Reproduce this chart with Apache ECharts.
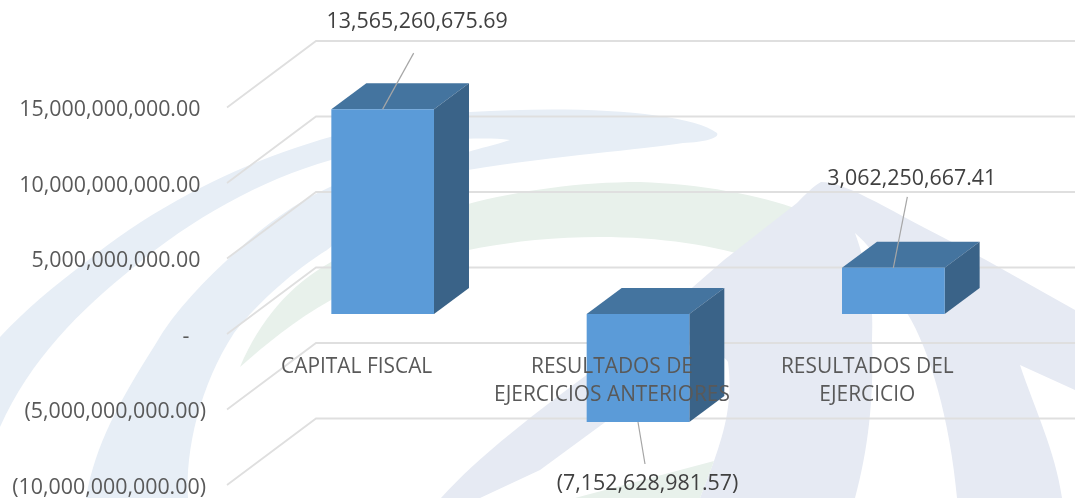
<!DOCTYPE html>
<html>
<head>
<meta charset="utf-8">
<style>html,body{margin:0;padding:0;background:#fff}#c{width:1075px;height:498px}</style>
<script src="https://cdn.jsdelivr.net/npm/echarts@6/dist/echarts.min.js"></script>
</head>
<body>
<div id="c"></div>
<script>
const categories = ['CAPITAL FISCAL', 'RESULTADOS DE\nEJERCICIOS ANTERIORES', 'RESULTADOS DEL\nEJERCICIO'];
const values = [13565260675.69, -7152628981.57, 3062250667.41];
const yTicks = [-10000000000, -5000000000, 0, 5000000000, 10000000000, 15000000000];

// leader line end and label centre, relative to the free end of each bar's front face
const labelLayout = [
  {line: [31, -56], text: [34.5, -87.5]},
  {line: [7, 42], text: [9.5, 62]},
  {line: [14, -71], text: [18.5, -89]}
];
const FONT = '"Open Sans","Noto Sans",sans-serif';
const fmt2 = v => {
  const s = Math.abs(v).toLocaleString('en-US', {minimumFractionDigits: 2, maximumFractionDigits: 2});
  return v < 0 ? '(' + s + ')' : s;
};

const wall = {dx: 89, dy: -66.5};
const barShift = {dx: 26, dy: -20};
const barDepth = {dx: 35, dy: -26};

function renderGrid(params, api) {
  const y = api.coord([0, api.value(1)])[1];
  const x0 = params.coordSys.x;
  return {type: 'polyline', silent: true,
    shape: {points: [[x0 - 2, y], [x0 - 2 + wall.dx, y + wall.dy], [1080, y + wall.dy]]},
    style: {fill: null, stroke: '#dfdfdf', lineWidth: 1.8}};
}

function renderBar(params, api) {
  const i = api.value(0), v = api.value(1);
  const c0 = api.coord([i, 0]), c1 = api.coord([i, v]);
  const w = api.size([1, 0])[0] * 0.402;
  const cx = c0[0] + barShift.dx;
  const xl = cx - w / 2, xr = cx + w / 2;
  const y0 = c0[1] + barShift.dy, y1 = c1[1] + barShift.dy;
  const top = Math.min(y0, y1), bot = Math.max(y0, y1);
  const d = barDepth;
  const L = labelLayout[i];
  const ax = cx, ay = y1;
  return {type: 'group', children: [
    {type: 'polygon', shape: {points: [[xl, top], [xr, top], [xr + d.dx, top + d.dy], [xl + d.dx, top + d.dy]]}, style: {fill: '#44749f'}},
    {type: 'polygon', shape: {points: [[xr, top], [xr + d.dx, top + d.dy], [xr + d.dx, bot + d.dy], [xr, bot]]}, style: {fill: '#3a6388'}},
    {type: 'rect', shape: {x: xl, y: top, width: w, height: bot - top}, style: {fill: '#5b9bd8'}},
    {type: 'line', shape: {x1: ax, y1: ay, x2: ax + L.line[0], y2: ay + L.line[1]}, style: {stroke: '#a6a6a6', lineWidth: 1.2}},
    {type: 'text', style: {x: ax + L.text[0], y: ay + L.text[1], text: fmt2(v), fill: '#404040', font: '21.4px ' + FONT, textAlign: 'center', textVerticalAlign: 'middle'}}
  ]};
}

const watermark = [
  {fill: '#e7eef6', d: 'M717,133 C690,112 580,105 470,112 C340,122 200,170 86,262 C55,285 25,310 0,337 L0,427 C30,360 80,310 134,267 C190,220 260,180 331,160 C400,143 470,135 510,140 C495,145 480,148 468,152 C420,162 370,170 330,187 C295,203 265,225 238,250 C205,280 175,310 155,345 C120,400 95,445 86,498 L188,498 C185,450 200,385 234,333 C260,300 295,270 327,250 C370,215 420,185 468,170 C560,155 640,150 683,143 C705,142 720,138 717,133 Z'},
  {fill: '#e8f1eb', d: 'M240,367 C260,320 290,285 331,262 C400,215 520,182 640,182 C700,184 760,195 800,210 L760,260 C700,240 620,232 535,240 C460,248 390,265 331,300 C295,320 265,345 240,367 Z'},
  {fill: '#e6eaf3', d: 'M821,182 C845,182 880,205 948,240 L986,260 L1075,310 L1075,390 L1020,365 C1035,410 1055,450 1062,498 L957,498 C950,420 930,350 907,313 C895,285 880,255 855,233 C868,270 874,300 872,340 C874,400 868,450 855,498 L441,498 C480,455 535,413 600,365 C640,335 670,310 693,287 L724,260 L797,203 C805,195 812,187 821,182 Z'},
  {fill: '#ffffff', d: 'M480,498 L540,470 L604,423 L690,345 Q722,352 728,362 C733,400 725,430 714,461 L700,498 Z'},
  {fill: '#e8f1eb', d: 'M575,498 L714,461 L700,498 Z'}
];

function renderWatermark(params) {
  const w = watermark[params.dataIndex];
  return {type: 'path', silent: true, shape: {pathData: w.d}, style: {fill: w.fill}};
}

const chart = echarts.init(document.getElementById('c'), null, {renderer: 'canvas'});
chart.setOption({
  animation: false,
  backgroundColor: '#ffffff',
  grid: {left: 229, width: 766, top: 107.5, bottom: 13, containLabel: false, outerBoundsMode: 'none'},
  xAxis: {
    type: 'category', data: categories, z: 6, offset: -152,
    axisLine: {show: false, onZero: false}, axisTick: {show: false}, splitLine: {show: false},
    axisLabel: {interval: 0, margin: 20, color: '#595959', fontFamily: FONT, fontSize: 20.9, lineHeight: 28, align: 'center', hideOverlap: false}
  },
  yAxis: {
    type: 'value', min: -10000000000, max: 15000000000, interval: 5000000000,
    axisLine: {show: false}, axisTick: {show: false}, splitLine: {show: false},
    axisLabel: {
      margin: 23, showMinLabel: true, showMaxLabel: true,
      formatter: v => '{a|' + (v === 0 ? '-   ' : (v < 0 ? fmt2(v) : fmt2(v) + ' ')) + '}',
      rich: {a: {color: '#595959', fontFamily: FONT, fontSize: 21.4, padding: [5, 0, 0, 0]}}
    }
  },
  series: [
    {type: 'custom', z: 0, clip: false, silent: true, encode: {x: 0, y: 1}, data: watermark.map(() => [0, 0]), renderItem: renderWatermark},
    {type: 'custom', z: 1, clip: false, silent: true, encode: {x: 0, y: 1}, data: yTicks.map(t => [0, t]), renderItem: renderGrid},
    {type: 'custom', z: 2, clip: false, silent: true, encode: {x: 0, y: 1}, data: values.map((v, i) => [i, v]), renderItem: renderBar}
  ]
});
</script>
</body>
</html>
